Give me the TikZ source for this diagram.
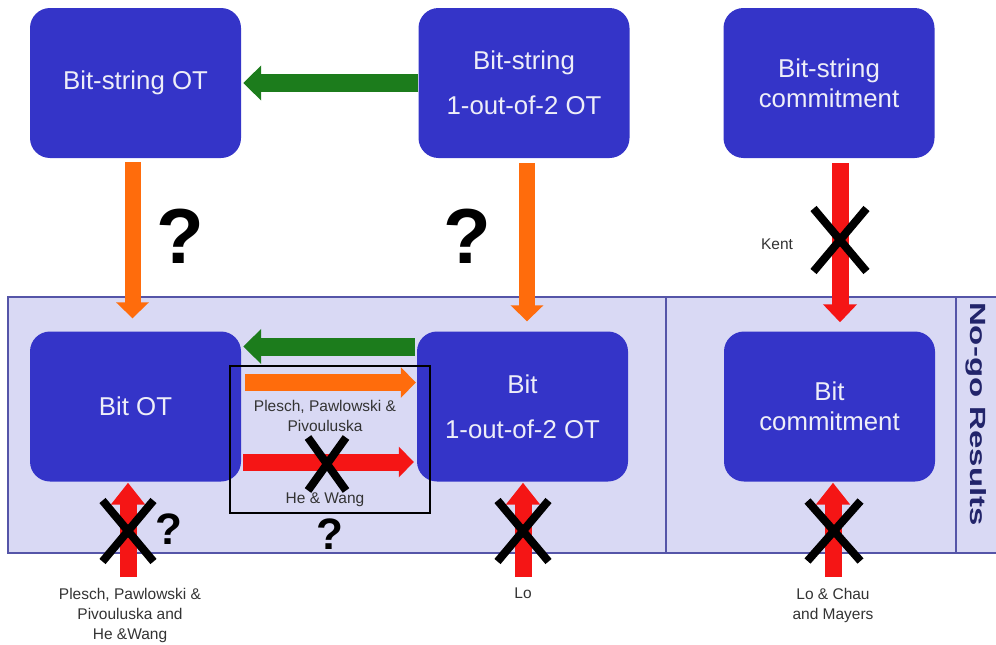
\documentclass[tikz,border=0pt]{standalone}
\usepackage{fontspec}
\setmainfont{Liberation Sans}
\usetikzlibrary{arrows.meta,shapes.misc,calc}
\definecolor{boxblue}{HTML}{3434C8}
\definecolor{boxtext}{HTML}{EEEEF8}
\definecolor{bandfill}{HTML}{D9D9F4}
\definecolor{bandline}{HTML}{5555A8}
\definecolor{arrgreen}{HTML}{1C7C1C}
\definecolor{arrorange}{HTML}{FF6C0C}
\definecolor{arrred}{HTML}{F51515}
\definecolor{labgray}{HTML}{333333}
\definecolor{nogo}{HTML}{22246A}
\tikzset{
  box/.style={rounded corners=20pt, fill=boxblue, minimum width=211pt, minimum height=150pt,
    inner sep=0pt, text=boxtext, font=\fontsize{25.8}{30}\selectfont, align=center},
  lab/.style={font=\fontsize{15.5}{20}\selectfont, text=labgray, align=center, inner sep=0pt},
  qbig/.style={font=\bfseries\fontsize{78}{78}\selectfont, inner sep=0pt},
  qsmall/.style={font=\bfseries\fontsize{44}{44}\selectfont, inner sep=0pt},
  crossx/.style={cross out, draw=black, line width=8pt, inner sep=0pt},
  garrow/.style={draw=arrgreen, line width=18pt, -{Triangle[width=34pt,length=18pt]}},
  oarrow/.style={draw=arrorange, line width=16pt, -{Triangle[width=32pt,length=16pt]}},
  rarrow/.style={draw=arrred, line width=17pt, -{Triangle[width=33pt,length=18pt]}},
  bandln/.style={draw=bandline, line width=1.3pt},
}
\begin{document}
\begin{tikzpicture}[x=1pt,y=-1pt]
\useasboundingbox (0,0) rectangle (996,645);
% band
\fill[bandfill] (8,297) rectangle (1000,553);
\draw[bandln] (1000,297) -- (8,297) -- (8,553) -- (1000,553);
\draw[bandln] (666,297) -- (666,553);
\draw[bandln] (956,297) -- (956,553);
\node[rotate=-90, font=\bfseries\fontsize{22}{22}\selectfont, text=nogo, inner sep=0pt] (nogo) at (976,414) {\scalebox{1.5}[1]{No-go Results}};

% boxes
\node[box] (bsot) at (135.5,83) {Bit-string OT};
\node[box] (bs12) at (524,83) {Bit-string\\[15pt]1-out-of-2 OT};
\node[box] (bsc) at (829,83) {Bit-string\\commitment};
\node[box] (bot) at (135.5,406.5) {Bit OT};
\node[box] (b12) at (522.5,406.5) {Bit\\[15pt]1-out-of-2 OT};
\node[box] (bc) at (829.5,406.5) {Bit\\commitment};

% top arrows
\draw[garrow, shorten >=2pt] (bs12.west) -- (bsot.east);
\draw[oarrow, shorten <=4pt, shorten >=13pt] ([xshift=-3pt]bsot.south) -- ([xshift=-3pt]bsot.south |- bot.north);
\draw[oarrow, shorten <=5pt, shorten >=10pt] ([xshift=3pt]bs12.south) -- ([xshift=3pt]bs12.south |- b12.north);
\draw[rarrow, shorten <=5pt, shorten >=9pt] ([xshift=11pt]bsc.south) -- ([xshift=11pt]bsc.south |- bc.north);
\node[qbig] (q1) at (180,236) {?};
\node[qbig] (q2) at (467,236) {?};
\node[crossx, minimum width=45pt, minimum height=55pt] (xk) at (840,240) {};
\node[lab] (kent) at (777,244) {Kent};

% middle arrows
\coordinate (gs) at ($(b12.west)+(-2,-60)$);
\coordinate (ge) at ($(bot.east)+(0,-60)$);
\draw[garrow, shorten >=2pt] (gs) -- (ge);
\node[draw=black, line width=1.3pt, minimum width=200pt, minimum height=147pt, inner sep=0pt] (frame) at (330,439.5) {};
\coordinate (os) at ($(bot.east)+(4,-24)$);
\coordinate (oe) at ($(b12.west)+(-1,-24)$);
\draw[oarrow, line width=17pt, -{Triangle[width=30pt,length=15pt]}] (os) -- (oe);
\node[lab] (ppp) at (325,415.5) {Plesch, Pawlowski \&\\Pivouluska};
\coordinate (rs) at ($(bot.east)+(2,55.5)$);
\coordinate (re) at ($(b12.west)+(-3,55.5)$);
\draw[rarrow, -{Triangle[width=30pt,length=15pt]}] (rs) -- (re);
\node[crossx, minimum width=30pt, minimum height=45pt] (xm) at (327,464) {};
\node[lab] (hw) at (325,500) {He \& Wang};
\node[qsmall] (q3) at (330,534) {?};

% bottom arrows
\coordinate (t1) at (128,577);
\coordinate (t2) at (523,577);
\coordinate (t3) at (833,577);
\draw[rarrow, -{Triangle[width=33pt,length=22pt]}, shorten >=1pt] (t1) -- (t1 |- bot.south);
\draw[rarrow, -{Triangle[width=33pt,length=22pt]}, shorten >=1pt] (t2) -- (t2 |- b12.south);
\draw[rarrow, -{Triangle[width=33pt,length=22pt]}, shorten >=1pt] (t3) -- (t3 |- bc.south);
\node[crossx, minimum width=43pt, minimum height=53pt] (x1) at (128,531) {};
\node[crossx, minimum width=43pt, minimum height=53pt] (x2) at (523,531) {};
\node[crossx, minimum width=45pt, minimum height=52pt] (x3) at (834,531) {};
\node[qsmall] (q4) at (169,529) {?};
\node[lab, anchor=north] (l1) at (130,588) {Plesch, Pawlowski \&\\Pivouluska and\\He \&Wang};
\node[lab, anchor=north] (l2) at (523,588) {Lo};
\node[lab, anchor=north] (l3) at (833,588) {Lo \& Chau\\and Mayers};
\end{tikzpicture}
\end{document}
